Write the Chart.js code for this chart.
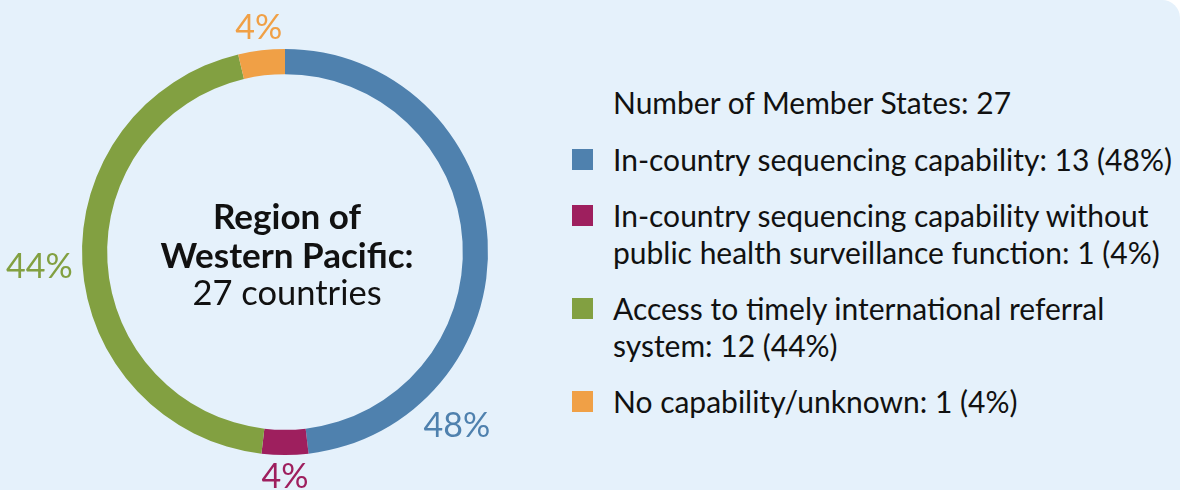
<!DOCTYPE html>
<html>
<head>
<meta charset="utf-8">
<script src="https://cdn.jsdelivr.net/npm/chart.js@4.4.1/dist/chart.umd.min.js"></script>
<style>
  html, body { margin: 0; padding: 0; }
  body { width: 1180px; height: 490px; overflow: hidden; background: #fff; font-family: Lato, "Noto Sans", sans-serif; }
  .panel { position: relative; width: 1180px; height: 490px; background: #e5f1fb; border-top-right-radius: 18px; }
  .chart-box { position: absolute; left: 0; top: 0; width: 570px; height: 490px; }
  .legend { position: absolute; left: 572px; top: 84px; color: #111; font-size: 30px; line-height: 36.5px; }
  .legend .title { margin-left: 41px; margin-bottom: 20px; }
  .legend .item { display: flex; align-items: flex-start; margin-bottom: 20px; }
  .legend .swatch { width: 21px; height: 21px; flex: none; margin-top: 8px; margin-right: 20px; }
</style>
</head>
<body>
<div class="panel">
  <div class="chart-box"><canvas id="donut"></canvas></div>
  <div class="legend" id="legend"></div>
</div>
<script>
// Data
const categories = [
  'In-country sequencing capability',
  'In-country sequencing capability without\npublic health surveillance function',
  'Access to timely international referral\nsystem',
  'No capability/unknown'
];
const counts = [13, 1, 12, 1];
const percents = [48, 4, 44, 4];
const colors = ['#4f81ae', '#9e1f5e', '#82a041', '#f0a046'];
const totalStates = 27;
const regionName = 'Region of\nWestern Pacific:';

// Legend (HTML)
const legendEl = document.getElementById('legend');
const title = document.createElement('div');
title.className = 'title';
title.textContent = 'Number of Member States: ' + totalStates;
legendEl.appendChild(title);
categories.forEach((cat, i) => {
  const item = document.createElement('div');
  item.className = 'item';
  const sw = document.createElement('span');
  sw.className = 'swatch';
  sw.style.background = colors[i];
  const txt = document.createElement('div');
  const full = cat + ': ' + counts[i] + ' (' + percents[i] + '%)';
  txt.innerHTML = full.split('\n').join('<br>');
  item.appendChild(sw);
  item.appendChild(txt);
  legendEl.appendChild(item);
});

// Percentage labels outside the ring + centre text
const labelFrac = [0.78, 0.5, 0.5, 0.5]; // where along each arc its label sits
const ringLabels = {
  id: 'ringLabels',
  afterDatasetsDraw(chart) {
    const ctx = chart.ctx;
    const arcs = chart.getDatasetMeta(0).data;
    ctx.save();
    ctx.font = '34px Lato';
    const capH = 24;
    arcs.forEach((arc, i) => {
      const p = arc.getProps(['x', 'y', 'startAngle', 'endAngle', 'outerRadius'], true);
      const a = p.startAngle + (p.endAngle - p.startAngle) * labelFrac[i];
      const text = percents[i] + '%';
      const halfW = ctx.measureText(text).width / 2;
      const r = p.outerRadius + 9 + halfW * Math.abs(Math.cos(a)) + (capH / 2) * Math.abs(Math.sin(a));
      const tx = p.x + Math.cos(a) * r;
      const ty = p.y + Math.sin(a) * r;
      ctx.fillStyle = colors[i];
      ctx.textAlign = 'center';
      ctx.textBaseline = 'alphabetic';
      ctx.fillText(text, tx, ty + capH / 2);
    });

    // centre text
    const c = arcs[0];
    ctx.fillStyle = '#111';
    ctx.textAlign = 'center';
    const lines = regionName.split('\n');
    ctx.font = 'bold 35px Lato';
    ctx.fillText(lines[0], c.x + 2, c.y - 23);
    ctx.fillText(lines[1], c.x + 2, c.y + 16);
    ctx.font = '34.5px Lato';
    ctx.fillText(totalStates + ' countries', c.x + 2, c.y + 53);
    ctx.restore();
  }
};

new Chart(document.getElementById('donut'), {
  type: 'doughnut',
  data: {
    labels: categories,
    datasets: [{
      data: counts,
      backgroundColor: colors,
      borderWidth: 0
    }]
  },
  options: {
    responsive: true,
    maintainAspectRatio: false,
    animation: false,
    cutout: '87.6%',
    rotation: 0,
    layout: { padding: { left: 82, right: 82, top: 49, bottom: 35 } },
    plugins: {
      legend: { display: false },
      tooltip: { enabled: false }
    }
  },
  plugins: [ringLabels]
});
</script>
</body>
</html>
